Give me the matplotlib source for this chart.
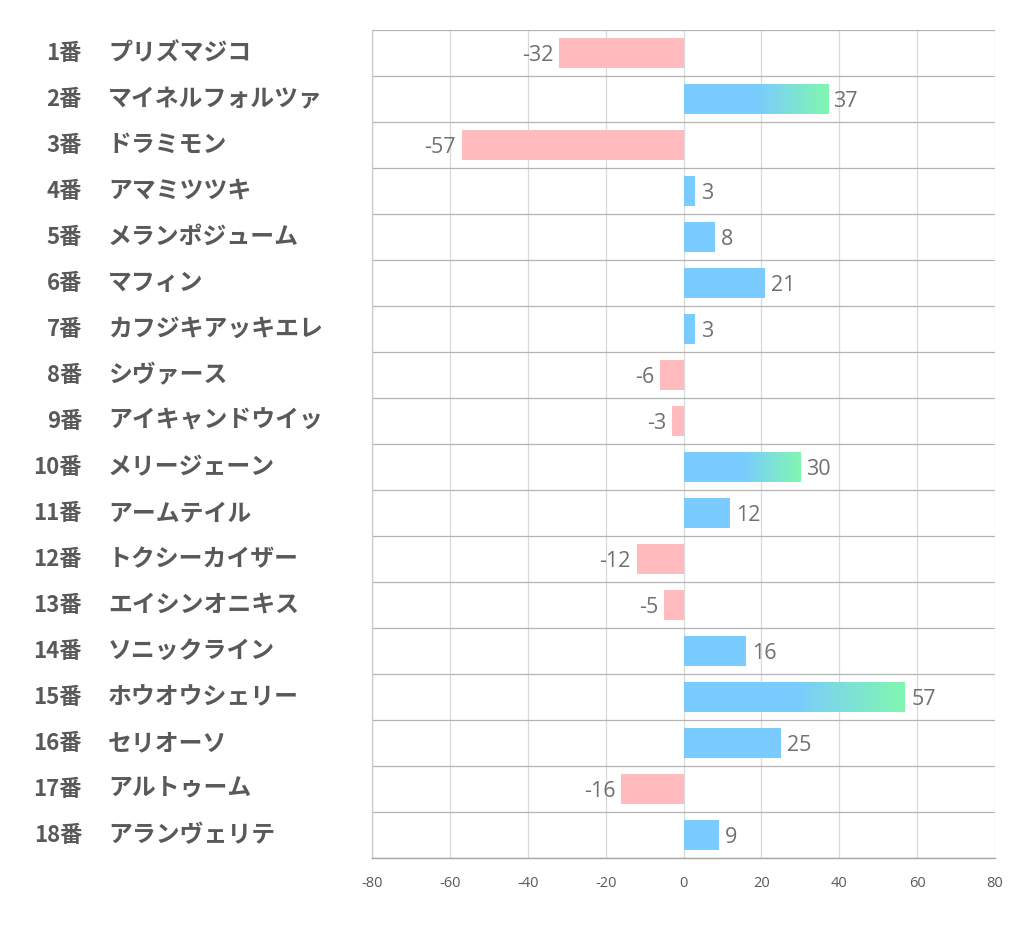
import matplotlib.pyplot as plt
import matplotlib.transforms as mtransforms
import numpy as np
from matplotlib.colors import LinearSegmentedColormap

plt.rcParams["font.family"] = ["Noto Sans CJK JP", "DejaVu Sans"]

numbers = [f"{i}番" for i in range(1, 19)]
names = [
    "プリズマジコ", "マイネルフォルツァ", "ドラミモン", "アマミツツキ", "メランポジューム",
    "マフィン", "カフジキアッキエレ", "シヴァース", "アイキャンドウイッ", "メリージェーン",
    "アームテイル", "トクシーカイザー", "エイシンオニキス", "ソニックライン", "ホウオウシェリー",
    "セリオーソ", "アルトゥーム", "アランヴェリテ",
]
values = [-32, 37, -57, 3, 8, 21, 3, -6, -3, 30, 12, -12, -5, 16, 57, 25, -16, 9]
xticks = [-80, -60, -40, -20, 0, 20, 40, 60, 80]

BLUE = "#7acbff"
GREEN = "#80f7b0"
PINK = "#ffbbbe"
LABEL = "#595959"
VALUE = "#707070"

fig = plt.figure(figsize=(10.22, 9.39), dpi=100)
ax = fig.add_axes([372 / 1022, 1 - 858 / 939, (995 - 372) / 1022, (858 - 30) / 939])

y = np.arange(len(values))
h = 0.65
cmap = LinearSegmentedColormap.from_list("bg", [BLUE, GREEN])
grad = np.linspace(0, 1, 256).reshape(1, -1)
num_font = ["Open Sans", "DejaVu Sans"]

for yi, v in zip(y, values):
    if v < 0:
        ax.barh(yi, v, height=h, color=PINK, zorder=2)
        ax.text(v - 1.5, yi + 0.05, str(v), ha="right", va="center", fontsize=15.5,
                color=VALUE, family=num_font)
    else:
        bars = ax.barh(yi, v, height=h, color=BLUE, zorder=2)
        if v >= 30:
            im = ax.imshow(grad, extent=[v * 0.5, v, yi + h / 2, yi - h / 2],
                           cmap=cmap, aspect="auto", zorder=3, interpolation="bicubic")
            im.set_clip_path(bars[0])
        ax.text(v + 1.5, yi + 0.05, str(v), ha="left", va="center", fontsize=15.5,
                color=VALUE, family=num_font)

ax.set_xlim(-80, 80)
ax.set_ylim(len(values) - 0.5, -0.5)
ax.set_xticks(xticks)
ax.set_xticklabels([str(t) for t in xticks], fontsize=10.5, color=LABEL, family=num_font)
ax.set_yticks([])
ax.set_yticks(np.arange(-0.5, len(values), 1), minor=True)
ax.tick_params(axis="both", which="both", length=0, pad=13)
ax.grid(axis="x", color="#d9d9d9", linewidth=0.9, zorder=0)
ax.grid(axis="y", which="minor", color="#b4b4b4", linewidth=0.9, zorder=0)
ax.set_axisbelow(True)
for side in ["top", "right"]:
    ax.spines[side].set_visible(False)
ax.spines["left"].set_color("#c8c8c8")
ax.spines["bottom"].set_color("#a8a8a8")
ax.spines["left"].set_linewidth(0.9)
ax.spines["bottom"].set_linewidth(1.0)

trans_num = mtransforms.blended_transform_factory(fig.transFigure, ax.transData)
for yi, num, name in zip(y, numbers, names):
    ax.text(82 / 1022, yi, num, transform=trans_num, ha="right", va="center",
            fontsize=16, fontweight="bold", color=LABEL)
    ax.text(108 / 1022, yi, name, transform=trans_num, ha="left", va="center",
            fontsize=17.2, fontweight="bold", color=LABEL)

fig.savefig("out.png", dpi=100)
